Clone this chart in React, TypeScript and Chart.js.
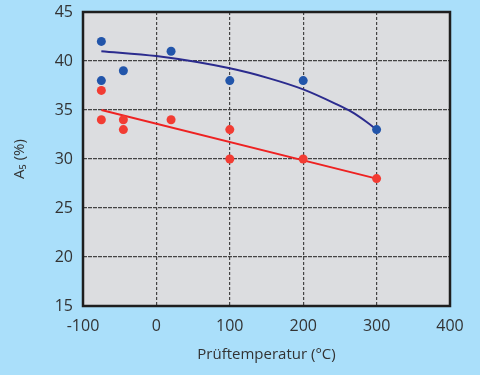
import React, { useEffect, useRef } from "react";
import { Chart, registerables } from "chart.js";

Chart.register(...registerables);

const blueX = [-75, -75, -45, 20, 100, 200, 300];
const blueY = [42, 38, 39, 41, 38, 38, 33];
const redX = [-75, -75, -45, -45, 20, 100, 100, 200, 300];
const redY = [37, 34, 34, 33, 34, 33, 30, 30, 28];
const blueFitX = [-75, 0, 100, 155, 200, 245, 266, 286, 300];
const blueFitY = [41, 40.5, 39.25, 38.2, 37.1, 35.6, 34.8, 33.8, 33];
const redFitX = [-75, 300];
const redFitY = [35, 28];

const xTicks = [-100, 0, 100, 200, 300, 400];
const yTicks = [15, 20, 25, 30, 35, 40, 45];

const toPts = (xs: number[], ys: number[]) => xs.map((x, i) => ({ x, y: ys[i] }));

const FONT = "'Open Sans', 'Noto Sans', sans-serif";
const TEXT = "#333333";

const framePlugin = {
  id: "frame",
  beforeDraw(chart: any) {
    const { ctx, chartArea: a } = chart;
    ctx.save();
    ctx.fillStyle = "#dcdde0";
    ctx.fillRect(a.left, a.top, a.right - a.left, a.bottom - a.top);
    ctx.restore();
  },
  afterDatasetsDraw(chart: any) {
    const { ctx, chartArea: a } = chart;
    ctx.save();
    ctx.strokeStyle = "#1e1e1e";
    ctx.lineWidth = 2.5;
    ctx.strokeRect(a.left, a.top, a.right - a.left, a.bottom - a.top);
    ctx.restore();
  },
};

export default function App() {
  const ref = useRef<HTMLCanvasElement>(null);
  useEffect(() => {
    document.body.style.margin = "0";
    const chart = new Chart(ref.current!, {
      type: "scatter",
      data: {
        datasets: [
          {
            data: toPts(blueFitX, blueFitY),
            showLine: true,
            borderColor: "#2b2b8e",
            borderWidth: 2,
            pointRadius: 0,
            cubicInterpolationMode: "monotone",
            order: 3,
          } as any,
          {
            data: toPts(redFitX, redFitY),
            showLine: true,
            borderColor: "#ee2222",
            borderWidth: 2,
            pointRadius: 0,
            order: 3,
          },
          {
            data: toPts(blueX, blueY),
            backgroundColor: "#2255aa",
            borderWidth: 0,
            pointRadius: 4.5,
            order: 1,
          },
          {
            data: toPts(redX, redY),
            backgroundColor: "#f23c33",
            borderWidth: 0,
            pointRadius: 4.5,
            order: 1,
          },
        ],
      },
      options: {
        animation: false,
        responsive: false,
        layout: { padding: { left: 0, top: 12, right: 30, bottom: 0 } },
        plugins: { legend: { display: false }, tooltip: { enabled: false } },
        scales: {
          x: {
            type: "linear",
            min: -100,
            max: 400,
            afterFit: (s: any) => {
              s.height = 69;
              s.paddingLeft = 0;
              s.paddingRight = 0;
            },
            afterBuildTicks: (s: any) => {
              s.ticks = xTicks.map((v) => ({ value: v }));
            },
            ticks: { padding: 11, color: TEXT, font: { family: FONT, size: 16 } },
            grid: { color: "#444444", lineWidth: 1.2, drawTicks: false },
            border: { display: false, dash: [3, 2] },
            title: {
              display: true,
              text: "Prüftemperatur (°C)",
              color: TEXT,
              font: { family: FONT, size: 15 },
              padding: { top: 0, bottom: 11 },
            },
          },
          y: {
            type: "linear",
            min: 15,
            max: 45,
            afterFit: (s: any) => {
              s.width = 83;
              s.paddingTop = 0;
              s.paddingBottom = 0;
            },
            afterBuildTicks: (s: any) => {
              s.ticks = yTicks.map((v) => ({ value: v }));
            },
            ticks: { padding: 10, color: TEXT, font: { family: FONT, size: 16 } },
            grid: { color: "#444444", lineWidth: 1.2, drawTicks: false },
            border: { display: false, dash: [4, 1] },
            title: {
              display: true,
              text: "A₅ (%)",
              color: TEXT,
              font: { family: FONT, size: 15 },
              padding: { top: 11, bottom: 0 },
            },
          },
        },
      },
      plugins: [framePlugin],
    });
    return () => chart.destroy();
  }, []);
  return (
    <div style={{ width: 480, height: 375, background: "#aadffa" }}>
      <canvas ref={ref} width={480} height={375} />
    </div>
  );
}
